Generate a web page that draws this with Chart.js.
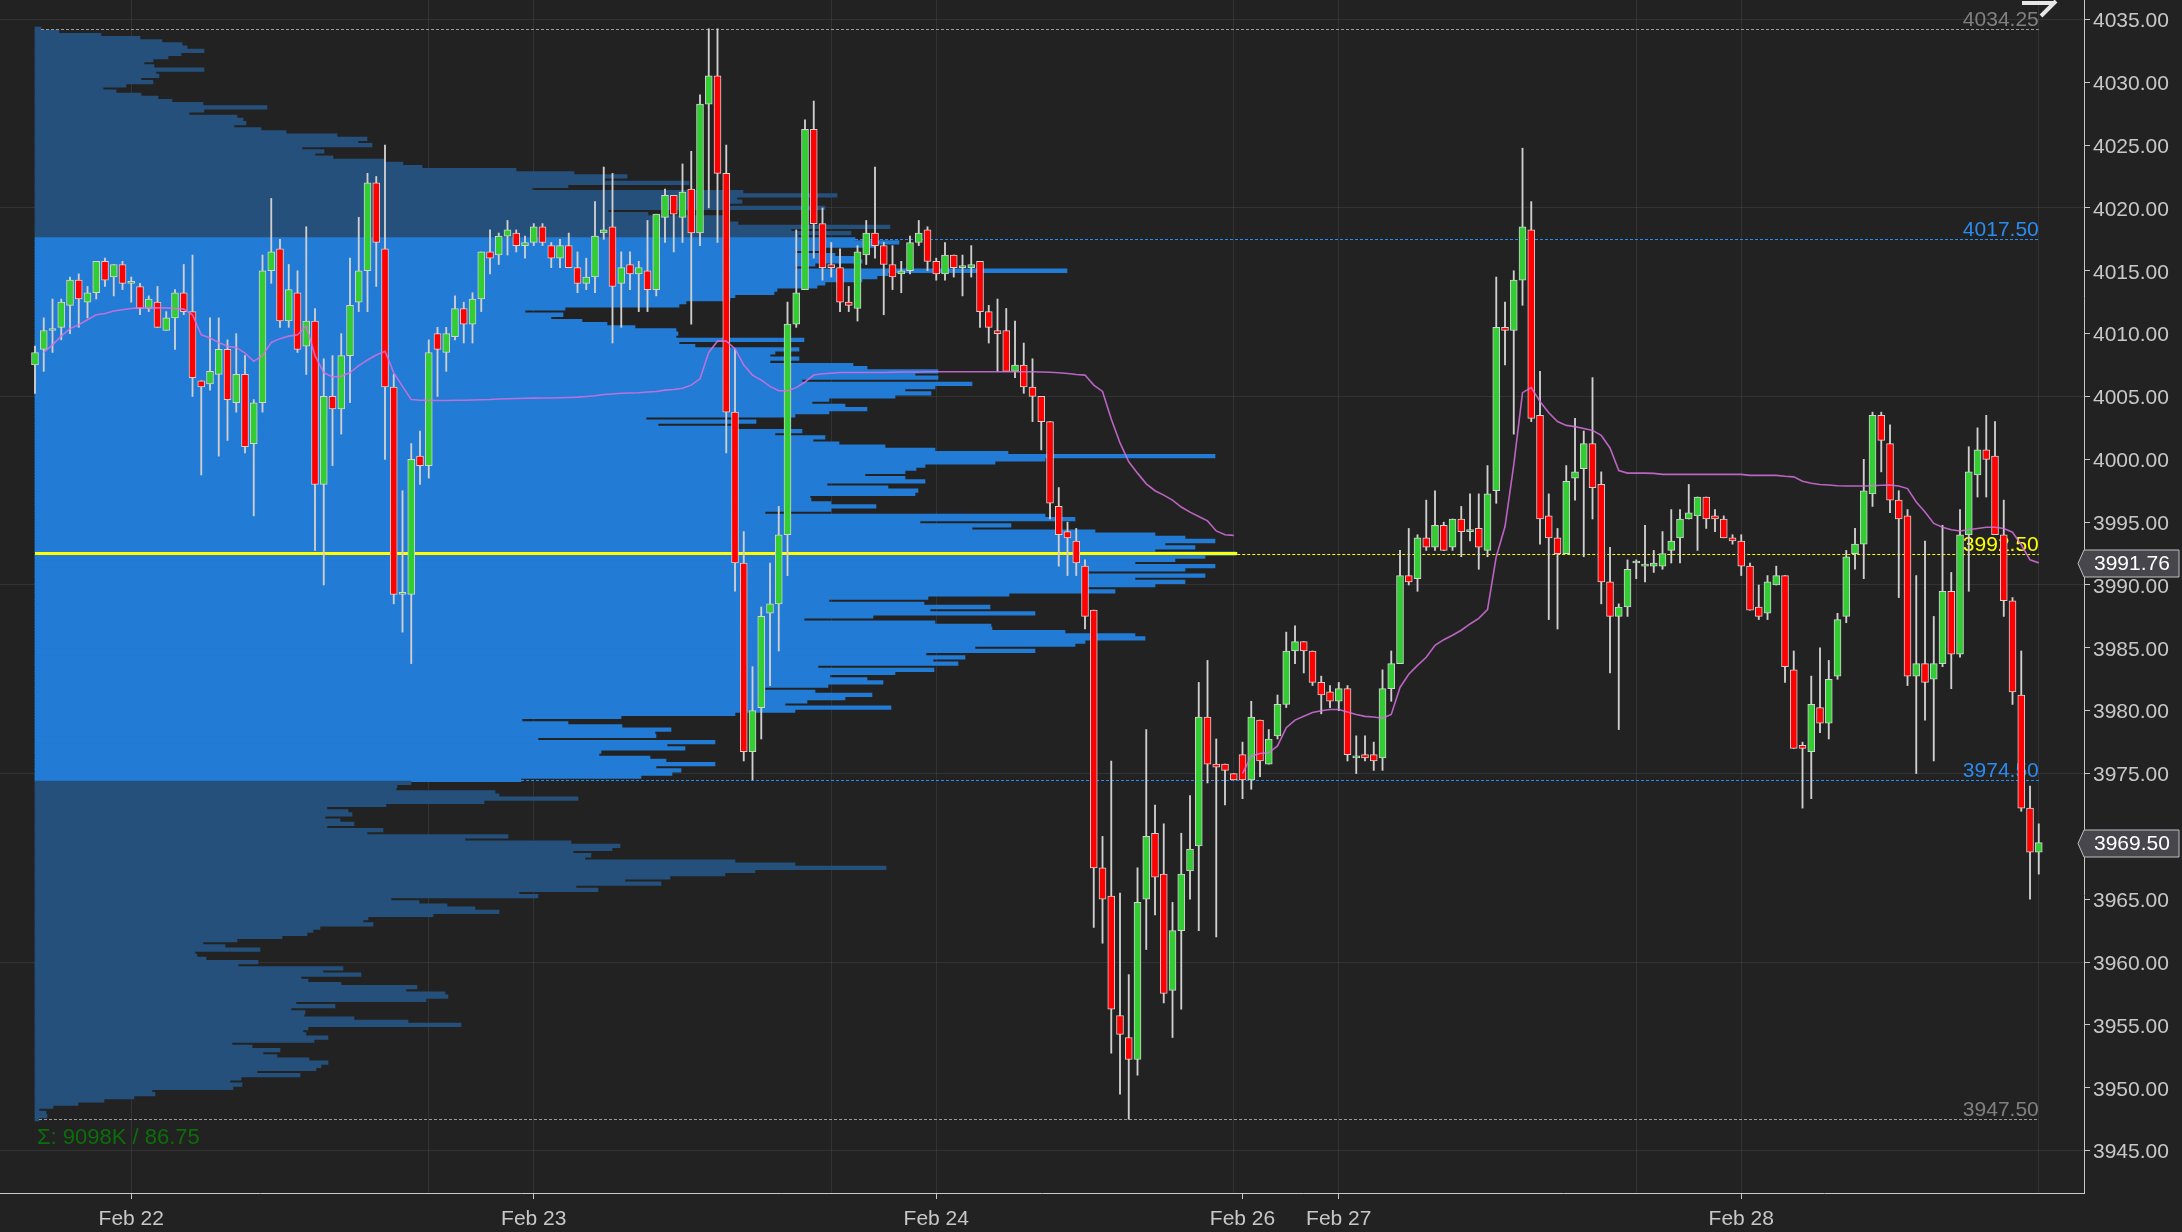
<!DOCTYPE html>
<html>
<head>
<meta charset="utf-8">
<title>ES 30m – volume profile</title>
<script src="https://cdn.jsdelivr.net/npm/chart.js@4.4.0/dist/chart.umd.min.js"></script>
<style>
  html, body { margin: 0; padding: 0; background: #222222; overflow: hidden; }
  #wrap { width: 2182px; height: 1232px; }
</style>
</head>
<body>
<div id="wrap"><canvas id="chart" width="2182" height="1232"></canvas></div>
<script>
// 30 minute bars, Feb 21 evening -> Feb 28 afternoon
const open = [
  4007.5, 4008.75, 4010.25, 4010.5, 4012.25, 4014.25, 4012.5, 4013.25, 4015.75, 4014.5,
  4015.5, 4014.0, 4013.75, 4012.0, 4012.5, 4010.25, 4011.25, 4013.25, 4011.75, 4006.25,
  4006.0, 4006.75, 4008.75, 4004.5, 4006.75, 4001.25, 4004.5, 4015.0, 4016.75, 4011.0,
  4013.25, 4009.0, 4011.0, 3998.0, 4005.0, 4004.0, 4008.25, 4012.5, 4015.0, 4022.0,
  4016.75, 4005.75, 3989.25, 3989.25, 4000.25, 3999.5, 4010.0, 4008.5, 4009.75, 4012.0,
  4010.75, 4012.75, 4016.5, 4016.25, 4017.75, 4018.0, 4017.0, 4017.25, 4018.5, 4017.0,
  4016.0, 4017.0, 4015.25, 4014.0, 4014.5, 4018.0, 4018.5, 4014.0, 4015.5, 4014.75,
  4015.0, 4013.5, 4019.25, 4021.0, 4019.25, 4021.5, 4018.0, 4028.25, 4030.5, 4022.75,
  4003.75, 3991.75, 3976.75, 3980.25, 3987.75, 3988.5, 3994.0, 4010.75, 4013.5, 4026.25,
  4018.75, 4015.5, 4015.25, 4012.5, 4012.0, 4016.25, 4018.0, 4017.0, 4015.5, 4014.75,
  4015.0, 4017.25, 4018.25, 4015.75, 4014.75, 4016.25, 4015.25, 4015.25, 4015.75, 4011.75,
  4010.25, 4010.25, 4007.0, 4007.5, 4005.75, 4005.0, 4003.0, 3996.25, 3994.25, 3993.5,
  3991.5, 3988.0, 3967.5, 3965.25, 3955.75, 3954.0, 3952.25, 3965.0, 3970.25, 3967.0,
  3957.75, 3962.5, 3967.25, 3969.25, 3979.5, 3975.75, 3975.75, 3975.0, 3976.5, 3974.5,
  3979.25, 3975.75, 3978.0, 3980.5, 3984.75, 3985.5, 3984.75, 3982.25, 3981.5, 3980.75,
  3981.75, 3976.25, 3976.5, 3976.5, 3976.25, 3981.75, 3983.75, 3990.75, 3990.5, 3993.75,
  3993.0, 3994.75, 3993.0, 3995.25, 3994.25, 3994.5, 3992.75, 3997.5, 4010.5, 4010.25,
  4014.25, 4018.25, 4003.5, 3995.5, 3993.75, 3992.5, 3998.5, 3999.25, 4001.25, 3998.0,
  3990.25, 3987.5, 3988.25, 3991.75, 3991.5, 3991.5, 3991.5, 3992.75, 3993.75, 3995.25,
  3995.5, 3997.0, 3995.5, 3995.25, 3993.75, 3993.5, 3991.5, 3988.25, 3987.75, 3990.0,
  3990.75, 3983.25, 3977.25, 3976.75, 3980.25, 3979.0, 3982.75, 3987.5, 3992.5, 3993.25,
  3997.25, 4003.5, 4001.25, 3996.75, 3995.5, 3982.75, 3983.75, 3982.5, 3983.75, 3989.5,
  3984.5, 3994.0, 3998.75, 4000.75, 4000.25, 3994.0, 3988.75, 3981.25, 3972.25, 3968.75
];
const high = [
  4009.0, 4011.25, 4012.75, 4012.75, 4014.5, 4014.75, 4013.75, 4015.75, 4016.0, 4015.5,
  4015.75, 4014.5, 4014.0, 4013.0, 4013.75, 4011.75, 4013.5, 4015.5, 4016.25, 4006.25,
  4011.25, 4011.25, 4009.5, 4010.0, 4008.25, 4004.75, 4016.25, 4020.75, 4017.5, 4015.5,
  4015.0, 4018.5, 4012.0, 4008.0, 4008.25, 4010.0, 4016.0, 4019.25, 4022.75, 4022.5,
  4025.0, 4006.75, 3997.5, 4001.25, 4002.25, 4009.5, 4010.5, 4010.5, 4013.0, 4012.5,
  4013.25, 4016.5, 4018.25, 4018.0, 4019.0, 4018.25, 4017.75, 4018.75, 4018.75, 4017.25,
  4017.5, 4018.0, 4016.5, 4016.0, 4020.5, 4023.25, 4022.75, 4016.5, 4016.5, 4015.75,
  4019.0, 4019.5, 4021.5, 4021.0, 4023.5, 4024.5, 4029.0, 4034.25, 4034.25, 4025.0,
  4008.75, 3994.25, 3983.5, 3988.25, 3991.75, 3996.25, 4012.5, 4018.25, 4027.0, 4028.5,
  4020.0, 4017.25, 4016.75, 4013.75, 4017.0, 4019.0, 4023.25, 4017.25, 4017.0, 4015.75,
  4017.75, 4019.0, 4018.5, 4016.0, 4017.25, 4016.25, 4016.25, 4017.0, 4015.75, 4012.25,
  4012.75, 4012.0, 4011.0, 4009.25, 4008.0, 4005.0, 4003.0, 3997.75, 3995.0, 3994.5,
  3992.0, 3988.0, 3970.0, 3976.0, 3965.5, 3959.0, 3967.5, 3978.5, 3972.5, 3971.0,
  3964.75, 3970.25, 3973.25, 3982.25, 3984.0, 3977.75, 3975.75, 3975.0, 3977.5, 3980.75,
  3979.25, 3978.5, 3981.25, 3986.25, 3986.75, 3985.5, 3984.75, 3982.75, 3982.0, 3982.25,
  3982.0, 3978.0, 3978.0, 3977.5, 3983.25, 3984.75, 3992.75, 3994.5, 3994.0, 3996.75,
  3997.5, 3995.0, 3995.25, 3996.25, 3997.25, 3997.25, 3999.5, 4014.5, 4012.5, 4015.0,
  4024.75, 4020.5, 4007.0, 3997.25, 3994.5, 3999.5, 4003.25, 4002.25, 4006.5, 3999.0,
  3993.0, 3988.5, 3992.0, 3992.0, 3994.75, 3992.75, 3994.25, 3996.0, 3996.0, 3998.0,
  3997.0, 3997.0, 3996.0, 3995.5, 3994.0, 3994.0, 3991.75, 3990.0, 3990.75, 3991.5,
  3990.75, 3984.75, 3977.5, 3982.75, 3985.0, 3984.0, 3987.75, 3992.75, 3994.5, 4000.0,
  4003.75, 4003.75, 4002.75, 3997.5, 3996.0, 3990.75, 3993.5, 3987.5, 3994.75, 3991.0,
  3996.0, 4001.0, 4002.5, 4003.5, 4003.0, 3996.75, 3989.0, 3984.75, 3974.0, 3971.0
];
const low = [
  4005.25, 4007.0, 4008.5, 4009.5, 4010.0, 4010.5, 4011.25, 4012.75, 4013.75, 4013.0,
  4013.5, 4012.5, 4011.5, 4011.75, 4010.5, 4010.25, 4008.75, 4011.5, 4005.0, 3998.75,
  4005.5, 4000.25, 4001.5, 4003.75, 4000.5, 3995.5, 4003.75, 4014.0, 4010.5, 4010.5,
  4008.5, 4006.75, 3992.75, 3990.0, 3999.5, 4002.0, 4004.5, 4011.75, 4011.75, 4013.75,
  4000.0, 3988.5, 3986.25, 3983.75, 3998.0, 3998.5, 4005.0, 4007.0, 4009.5, 4009.25,
  4009.25, 4011.75, 4014.75, 4015.5, 4016.25, 4016.5, 4016.0, 4017.0, 4017.0, 4015.25,
  4015.25, 4015.25, 4013.25, 4013.5, 4013.25, 4017.5, 4009.25, 4010.5, 4013.5, 4011.75,
  4011.75, 4013.0, 4017.25, 4016.5, 4017.25, 4010.75, 4017.0, 4020.0, 4017.25, 4000.5,
  3989.5, 3976.0, 3974.5, 3977.75, 3982.0, 3984.75, 3990.75, 4010.5, 4013.5, 4016.0,
  4014.25, 4014.5, 4011.75, 4011.75, 4011.0, 4015.5, 4016.0, 4011.5, 4013.5, 4013.25,
  4014.75, 4017.0, 4015.0, 4014.25, 4014.25, 4014.5, 4013.0, 4014.5, 4010.5, 4009.25,
  4007.0, 4007.0, 4006.5, 4005.25, 4003.0, 4000.75, 3995.25, 3991.5, 3990.75, 3990.75,
  3986.5, 3962.75, 3961.5, 3952.75, 3949.5, 3947.5, 3951.0, 3961.0, 3963.75, 3956.75,
  3954.0, 3956.25, 3965.0, 3962.5, 3974.25, 3962.0, 3972.5, 3974.5, 3973.0, 3973.75,
  3974.75, 3975.75, 3977.75, 3980.25, 3983.75, 3983.0, 3982.0, 3979.75, 3980.25, 3980.0,
  3976.0, 3975.0, 3976.0, 3975.25, 3975.25, 3980.75, 3983.75, 3990.0, 3989.5, 3992.75,
  3992.75, 3992.75, 3992.75, 3992.25, 3993.5, 3991.25, 3992.25, 3996.5, 4007.5, 4002.0,
  4012.25, 4003.0, 3993.25, 3987.25, 3986.5, 3992.5, 3996.75, 3992.25, 3995.25, 3988.5,
  3983.0, 3978.5, 3987.5, 3990.5, 3990.25, 3991.0, 3991.25, 3991.75, 3991.75, 3995.25,
  3992.75, 3994.5, 3994.25, 3993.75, 3993.25, 3990.75, 3988.0, 3987.25, 3987.25, 3990.0,
  3982.25, 3977.0, 3972.25, 3973.0, 3978.25, 3977.75, 3982.5, 3987.0, 3991.25, 3990.5,
  3996.25, 3999.0, 3995.75, 3989.0, 3982.0, 3975.0, 3979.25, 3976.0, 3983.5, 3981.75,
  3984.25, 3989.5, 3997.0, 3997.0, 3994.0, 3987.5, 3980.5, 3972.0, 3965.0, 3967.0
];
const close = [
  4008.5, 4010.25, 4010.25, 4012.5, 4014.25, 4012.75, 4013.25, 4015.75, 4014.25, 4015.5,
  4014.0, 4014.0, 4012.0, 4012.75, 4010.5, 4011.25, 4013.25, 4011.75, 4006.5, 4005.75,
  4007.0, 4008.75, 4004.75, 4006.75, 4001.0, 4004.5, 4015.0, 4016.5, 4011.0, 4013.5,
  4008.75, 4011.0, 3998.0, 4005.0, 4004.0, 4008.25, 4012.25, 4015.0, 4022.0, 4017.25,
  4005.75, 3989.25, 3989.25, 4000.0, 3999.5, 4008.5, 4008.75, 4010.0, 4012.0, 4010.75,
  4012.75, 4016.5, 4016.0, 4017.75, 4018.25, 4017.0, 4017.25, 4018.5, 4017.25, 4016.0,
  4017.0, 4015.25, 4014.0, 4014.5, 4017.75, 4018.25, 4013.75, 4015.25, 4014.75, 4015.25,
  4013.5, 4019.5, 4021.0, 4019.5, 4021.25, 4018.0, 4028.25, 4030.5, 4022.75, 4003.75,
  3991.75, 3976.75, 3980.0, 3987.5, 3988.5, 3994.0, 4010.75, 4013.25, 4026.25, 4018.75,
  4015.25, 4015.25, 4012.5, 4012.25, 4016.5, 4018.0, 4017.0, 4015.5, 4014.5, 4015.0,
  4017.25, 4018.0, 4015.75, 4014.75, 4016.25, 4015.25, 4015.25, 4015.5, 4011.75, 4010.5,
  4010.0, 4007.0, 4007.5, 4005.75, 4005.0, 4003.0, 3996.5, 3994.0, 3993.75, 3991.75,
  3987.5, 3967.5, 3965.0, 3956.25, 3954.25, 3952.25, 3964.75, 3970.0, 3966.75, 3957.5,
  3962.5, 3967.0, 3969.0, 3979.5, 3975.75, 3975.5, 3975.25, 3974.5, 3974.5, 3979.5,
  3976.0, 3977.75, 3980.5, 3984.75, 3985.5, 3984.75, 3982.25, 3981.25, 3980.75, 3981.75,
  3976.5, 3976.25, 3976.25, 3976.0, 3981.75, 3983.75, 3990.75, 3990.25, 3993.75, 3993.0,
  3994.75, 3992.75, 3995.25, 3994.25, 3994.25, 3993.0, 3997.25, 4010.5, 4010.25, 4014.25,
  4018.5, 4003.25, 3995.25, 3993.75, 3992.5, 3998.25, 3999.0, 4001.25, 3997.75, 3990.25,
  3987.5, 3988.25, 3991.25, 3991.75, 3991.5, 3991.75, 3992.5, 3993.5, 3995.25, 3995.75,
  3997.0, 3995.25, 3995.25, 3993.75, 3993.5, 3991.5, 3988.0, 3987.5, 3990.25, 3990.75,
  3983.5, 3977.0, 3977.0, 3980.5, 3979.0, 3982.5, 3987.25, 3992.25, 3993.25, 3997.5,
  4003.5, 4001.5, 3996.75, 3995.25, 3982.75, 3983.75, 3982.25, 3983.75, 3989.5, 3984.5,
  3994.0, 3999.0, 4000.75, 4000.0, 3994.0, 3988.75, 3981.5, 3972.25, 3968.75, 3969.5
];

// VWAP, first period (bars 0-137) and new period from bar 138
const vwap = [
  null,
  4008.5, 4009.1, 4009.8, 4010.4, 4010.7, 4011.1, 4011.5, 4011.6, 4011.8, 4011.9,
  4012.0, 4012.05, 4012.05, 4012.05, 4012.05, 4012.0, 4011.95, 4011.5, 4009.9, 4009.65,
  4009.3, 4009.0, 4008.9, 4008.45, 4007.8, 4008.25, 4009.3, 4009.6, 4009.8, 4009.9,
  4010.6, 4008.25, 4006.9, 4006.55, 4006.6, 4006.9, 4007.45, 4007.9, 4008.3, 4008.6,
  4006.9, 4005.8, 4004.75, 4004.7, 4004.7, 4004.68, 4004.68, 4004.7, 4004.7, 4004.72,
  4004.74, 4004.76, 4004.8, 4004.82, 4004.84, 4004.86, 4004.87, 4004.88, 4004.88, 4004.9,
  4004.92, 4004.95, 4005.0, 4005.05, 4005.15, 4005.2, 4005.25, 4005.27, 4005.3, 4005.35,
  4005.4, 4005.5, 4005.55, 4005.65, 4005.9, 4006.4, 4008.5, 4009.4, 4009.4, 4008.8,
  4007.5, 4006.7, 4006.3, 4005.8, 4005.45, 4005.45, 4005.7, 4006.15, 4006.7, 4006.8,
  4006.85, 4006.9, 4006.9, 4006.9, 4006.9, 4006.9, 4006.9, 4006.92, 4006.95, 4006.95,
  4006.95, 4006.96, 4006.96, 4006.96, 4006.97, 4006.97, 4006.97, 4006.97, 4006.97, 4006.97,
  4006.97, 4006.97, 4006.97, 4006.97, 4006.95, 4006.92, 4006.88, 4006.83, 4006.75, 4006.7,
  4005.9, 4005.4, 4003.2, 4001.3, 3999.8, 3998.9, 3998.05, 3997.5, 3997.15, 3996.75,
  3996.2, 3995.8, 3995.45, 3995.1, 3994.3, 3994.0, 3993.95,
  3975.0, 3976.4, 3976.6, 3976.65, 3977.2, 3978.65, 3979.25, 3979.55, 3979.85, 3980.0,
  3980.1, 3980.1, 3979.9, 3979.7, 3979.55, 3979.5, 3979.4, 3979.7, 3981.85, 3982.9,
  3983.6, 3984.25, 3985.2, 3985.65, 3986.0, 3986.4, 3986.9, 3987.35, 3988.05, 3992.25,
  3994.65, 3999.55, 4005.3, 4005.7, 4004.6, 4003.7, 4003.0, 4002.7, 4002.6, 4002.45,
  4002.3, 4001.9, 4000.9, 3999.1, 3998.9, 3998.9, 3998.9, 3998.88, 3998.8, 3998.8,
  3998.8, 3998.8, 3998.8, 3998.8, 3998.8, 3998.8, 3998.8, 3998.8, 3998.72, 3998.72,
  3998.72, 3998.72, 3998.65, 3998.6, 3998.25, 3998.1, 3998.0, 3997.95, 3997.9, 3997.87,
  3997.87, 3997.87, 3997.9, 3997.93, 3997.95, 3997.87, 3997.67, 3996.6, 3995.8, 3994.9,
  3994.6, 3994.4, 3994.3, 3994.4, 3994.5, 3994.6, 3994.6, 3994.5, 3994.2, 3993.2, 3992.0, 3991.76
];
const newPeriodIdx = 138;

// volume profile of the first period, one row per 0.25 from the high down
const profileHigh = 4034.25;
const profileTick = 0.25;
const profileTop = [
  6, 24, 66, 105, 127, 147, 152, 169, 146, 133, 118, 109, 119, 169, 121, 124, 106, 118, 91, 68,
  81, 106, 123, 137, 168, 232, 169, 154, 202, 208, 211, 199, 226, 251, 302, 332, 323, 337, 267, 289,
  280, 298, 349, 368, 387, 481, 539, 592, 569, 654, 533, 497
];
const profileMid = [
  708, 802,
  702, 707, 690, 790,   573, 613, 690, 689,   703, 855, 756, 816,   763, 820, 864, 840,
  790, 760, 800, 819,   827, 780, 760, 1032,  853, 842, 827, 790,   782, 742, 739, 700,
  695, 651, 644, 530,   490, 528, 516, 547,   572, 600, 641, 643,   641, 769, 644, 660,
  764, 740, 735, 764,   735, 818, 832, 903,   880, 903, 767, 937,   900, 870, 896, 860,
  794, 777, 810, 832,   794, 760, 611, 721,   623, 700, 767, 740,   790, 778, 804, 850,
  900, 973, 1180, 1010, 960, 890, 881, 870,   830, 870, 890, 792,   853, 883, 880, 775,
  776, 796, 841, 796,   730, 1010, 1040, 885, 976, 937, 1060, 1120, 1150, 1180, 1130, 1160,
  1120, 1201, 1170, 1140, 1100, 1180, 1150, 1050, 1170, 1100, 1150, 1120, 1050, 1080, 974, 893,
  794, 889, 955, 895,   1000, 838, 769, 900,  956, 957, 1030, 1100, 1110, 1050, 1040, 940,
  1000, 891, 930, 898,  923, 783, 899, 860,   795, 832, 848, 793,   730, 780, 837, 810,
  772, 750, 856, 760,   700, 586, 487, 533,   587, 636, 620, 621,   503, 680, 632, 650,
  566, 564, 615, 631,   680, 621, 646, 637,
  606
];
const profileLow = [
  486, 376, 362, 361, 460, 464, 543, 449, 351, 292, 313, 317, 290, 305, 319, 292, 348, 332, 473, 430,
  536, 585, 577, 538, 556, 550, 700, 760, 851, 720, 690, 635, 590, 626, 541, 563, 484, 503, 356, 384,
  412, 440, 464, 398, 333, 328, 338, 285, 278, 272, 247, 202, 168, 190, 225, 160, 162, 171, 223, 203,
  308, 288, 326, 266, 273, 306, 382, 371, 410, 413, 391, 261, 300, 256, 270, 269, 319, 373, 426, 273,
  268, 271, 293, 279, 197, 217, 245, 228, 242, 274, 293, 286, 281, 222, 265, 206, 195, 207, 198, 117,
  120, 99, 69, 43, 18, 4, 11, 12, 4
];
const profileVol = profileTop.concat(profileMid, profileLow);
const profilePrices = profileVol.map((v, i) => profileHigh - i * profileTick);
const profileLowPrice = 3947.5;
const vaHigh = 4017.5;
const vaLow = 3974.5;
const pocPrice = 3992.5;
const profileEndIdx = 137.4;
const sumText = 'Σ: 9098K / 86.75';

// axis labels
const dayTickIdx = [11, 57, 103, 138, 149, 195];
const dayTickLabels = ['Feb 22', 'Feb 23', 'Feb 24', 'Feb 26', 'Feb 27', 'Feb 28'];
const sessionGridIdx = [45, 91, 137, 183, 229];
const priceTicks = [3945, 3950, 3955, 3960, 3965, 3970, 3975, 3980, 3985, 3990, 3995,
                    4000, 4005, 4010, 4015, 4020, 4025, 4030, 4035];

const FONT = "'Liberation Sans', Arial, Helvetica, sans-serif";
Chart.defaults.font.family = FONT;
Chart.defaults.color = '#c8c8c8';

const xTicks = dayTickIdx.concat(sessionGridIdx).sort((a, b) => a - b);
const gridIdx = sessionGridIdx.concat(dayTickIdx.filter(v => v !== 138));

const wickData = open.map((o, i) => ({ x: i, y: [low[i], high[i]] }));
const bodyData = open.map((o, i) => ({ x: i, y: [o, close[i]] }));
const bodyColors = open.map((o, i) => close[i] >= o ? '#32cd32' : '#ff0000');

const vwapData = [];
vwap.forEach((v, i) => {
  if (i === newPeriodIdx) vwapData.push({ x: i - 0.5, y: null });
  vwapData.push({ x: i, y: v });
});

const profileData = profilePrices.map((p, i) => ({ y: p, x: profileVol[i] }));
const profileColors = profilePrices.map(p => (p <= vaHigh && p >= vaLow) ? '#227bd4' : '#24507b');

function volAt(price) {
  return profileVol[Math.round((profileHigh - price) / profileTick)];
}

// lines for high / VA / POC / low, drawn right after the profile
const levelPlugin = {
  id: 'levels',
  afterDatasetDraw(chart, args) {
    if (args.index !== 0) return;
    const { ctx, chartArea } = chart;
    const x = chart.scales.x, y = chart.scales.y, xv = chart.scales.xv;
    const endX = x.getPixelForValue(open.length - 1);
    const periodEnd = x.getPixelForValue(profileEndIdx);
    ctx.save();
    ctx.beginPath();
    ctx.rect(chartArea.left, chartArea.top, chartArea.width, chartArea.height);
    ctx.clip();

    const pocY = y.getPixelForValue(pocPrice);
    ctx.strokeStyle = '#ffff00';
    ctx.lineWidth = 3;
    ctx.beginPath();
    ctx.moveTo(xv.getPixelForValue(0), pocY);
    ctx.lineTo(periodEnd, pocY);
    ctx.stroke();

    const levels = [
      { p: profileHigh, from: xv.getPixelForValue(volAt(profileHigh)), line: '#9a9a9a', text: '#808080' },
      { p: vaHigh, from: xv.getPixelForValue(volAt(vaHigh)), line: '#2a8cf0', text: '#2a8cf0' },
      { p: pocPrice, from: periodEnd, line: '#ffff00', text: '#ffff00' },
      { p: vaLow, from: xv.getPixelForValue(volAt(vaLow)), line: '#2a8cf0', text: '#2a8cf0' },
      { p: profileLowPrice, from: xv.getPixelForValue(volAt(profileLowPrice)), line: '#9a9a9a', text: '#808080' }
    ];
    ctx.lineWidth = 1;
    ctx.setLineDash([3, 2]);
    ctx.font = '21px ' + FONT;
    ctx.textAlign = 'right';
    ctx.textBaseline = 'alphabetic';
    levels.forEach(l => {
      const ly = Math.round(y.getPixelForValue(l.p)) + 0.5;
      ctx.strokeStyle = l.line;
      ctx.beginPath();
      ctx.moveTo(l.from, ly);
      ctx.lineTo(endX, ly);
      ctx.stroke();
      ctx.fillStyle = l.text;
      ctx.fillText(l.p.toFixed(2), endX, ly - 4);
    });
    ctx.restore();
  },
  afterDraw(chart) {
    const { ctx } = chart;
    const y = chart.scales.y;
    const left = y.left;
    const boxes = [vwap[vwap.length - 1], close[close.length - 1]];
    ctx.save();
    boxes.forEach(v => {
      const cy = Math.round(y.getPixelForValue(v)) + 0.5;
      ctx.beginPath();
      ctx.moveTo(left - 6, cy);
      ctx.lineTo(left, cy - 13.5);
      ctx.lineTo(left + 95, cy - 13.5);
      ctx.lineTo(left + 95, cy + 13.5);
      ctx.lineTo(left, cy + 13.5);
      ctx.closePath();
      ctx.fillStyle = '#46464c';
      ctx.fill();
      ctx.strokeStyle = '#c0c0c0';
      ctx.lineWidth = 1;
      ctx.stroke();
      ctx.fillStyle = '#ffffff';
      ctx.font = '21px ' + FONT;
      ctx.textAlign = 'left';
      ctx.textBaseline = 'middle';
      ctx.fillText(v.toFixed(2), left + 10, cy + 1);
    });

    ctx.fillStyle = '#0b6e0b';
    ctx.font = '22px ' + FONT;
    ctx.textAlign = 'left';
    ctx.textBaseline = 'middle';
    ctx.fillText(sumText, chart.scales.xv.getPixelForValue(0) + 2, y.getPixelForValue(profileLowPrice) + 19);

    // small arrow glyph top right
    ctx.strokeStyle = '#e6e6e6';
    ctx.lineWidth = 4;
    ctx.lineCap = 'butt';
    ctx.beginPath();
    ctx.moveTo(2022, 3);
    ctx.lineTo(2053, 3);
    ctx.moveTo(2041, 16);
    ctx.lineTo(2056, 1);
    ctx.stroke();
    ctx.restore();
  }
};

const chart = new Chart(document.getElementById('chart'), {
  type: 'bar',
  data: {
    datasets: [
      {
        label: 'profile',
        type: 'bar',
        indexAxis: 'y',
        xAxisID: 'xv',
        yAxisID: 'y',
        data: profileData,
        backgroundColor: profileColors,
        borderWidth: 0,
        barThickness: 3.6,
        grouped: false,
        order: 10
      },
      {
        label: 'wicks',
        type: 'bar',
        xAxisID: 'x',
        yAxisID: 'y',
        data: wickData,
        backgroundColor: '#cfcfcf',
        borderWidth: 0,
        barThickness: 1.2,
        grouped: false,
        order: 3
      },
      {
        label: 'bodies',
        type: 'bar',
        xAxisID: 'x',
        yAxisID: 'y',
        data: bodyData,
        backgroundColor: bodyColors,
        borderColor: '#d2d2d2',
        borderWidth: 1,
        borderSkipped: false,
        minBarLength: 2,
        barThickness: 7,
        grouped: false,
        order: 2
      },
      {
        label: 'VWAP',
        type: 'line',
        xAxisID: 'x',
        yAxisID: 'y',
        data: vwapData,
        borderColor: 'rgba(214, 112, 222, 0.85)',
        borderWidth: 1.6,
        pointRadius: 0,
        spanGaps: false,
        tension: 0,
        order: 1
      }
    ]
  },
  options: {
    responsive: false,
    animation: false,
    events: [],
    devicePixelRatio: 1,
    layout: { padding: 0, autoPadding: false },
    plugins: { legend: { display: false }, tooltip: { enabled: false } },
    scales: {
      x: {
        type: 'linear',
        position: 'bottom',
        min: -4,
        max: 234.17,
        offset: false,
        z: 1,
        afterBuildTicks: s => { s.ticks = xTicks.map(v => ({ value: v })); },
        afterFit: s => { s.height = 39; s.paddingLeft = 0; s.paddingRight = 0; },
        ticks: {
          autoSkip: false,
          maxRotation: 0,
          padding: 8,
          color: '#c8c8c8',
          font: { size: 21 },
          callback: v => {
            const k = dayTickIdx.indexOf(v);
            return k >= 0 ? dayTickLabels[k] : '';
          }
        },
        grid: {
          offset: false,
          tickLength: 6,
          color: c => (c.tick && gridIdx.includes(c.tick.value)) ? 'rgba(255,255,255,0.08)' : 'transparent',
          tickColor: c => (c.tick && dayTickIdx.includes(c.tick.value)) ? '#c8c8c8' : 'transparent'
        },
        border: { color: '#c8c8c8', width: 1 }
      },
      xv: {
        type: 'linear',
        display: false,
        offset: false,
        grid: { offset: false },
        min: -35,
        max: 2049
      },
      y: {
        type: 'linear',
        position: 'right',
        min: 3941.63,
        max: 4036.54,
        offset: false,
        z: 1,
        afterBuildTicks: s => { s.ticks = priceTicks.map(v => ({ value: v })); },
        afterFit: s => { s.width = 98; s.paddingTop = 0; s.paddingBottom = 0; },
        ticks: {
          autoSkip: false,
          padding: 3,
          labelOffset: 2,
          color: '#c8c8c8',
          font: { size: 21 },
          callback: v => Number(v).toFixed(2)
        },
        grid: {
          offset: false,
          tickLength: 6,
          color: c => (c.tick && c.tick.value % 15 === 0) ? 'rgba(255,255,255,0.08)' : 'transparent',
          tickColor: '#c8c8c8'
        },
        border: { color: '#c8c8c8', width: 1 }
      }
    }
  },
  plugins: [levelPlugin]
});
</script>
</body>
</html>
